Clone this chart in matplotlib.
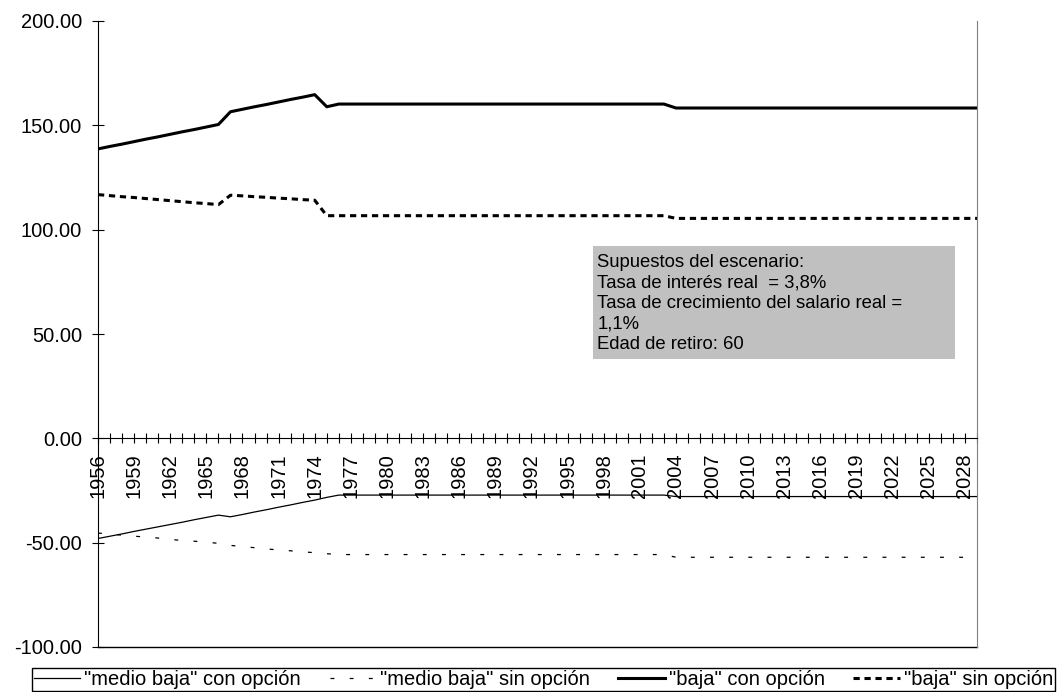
import numpy as np
import matplotlib
matplotlib.use("Agg")
import matplotlib.pyplot as plt
import matplotlib.patches as patches

plt.rcParams['font.family'] = ['Liberation Sans', 'DejaVu Sans']
plt.rcParams['lines.scale_dashes'] = False

# years on the category axis
years = list(range(1956, 2030))

# "medio baja" con opcion (thin solid)
medio_con = [-48.0, -46.9, -45.8, -44.6, -43.5, -42.4, -41.3, -40.2, -39.0, -37.9, -36.8,
             -37.6, -36.5, -35.3, -34.2, -33.0, -31.9, -30.7, -29.6, -28.3, -27.2] \
    + [-27.2] * 27 + [-27.9] * 26

# "medio baja" sin opcion (thin dashed)
medio_sin = [-45.4, -45.9, -46.4, -46.9, -47.3, -47.8, -48.4, -49.0, -49.3, -49.8, -50.3,
             -51.3, -51.9, -52.4, -53.0, -53.5, -53.9, -54.4, -54.8, -55.3, -55.7] \
    + [-55.7] * 27 + [-57.0] * 26

# "baja" con opcion (thick solid)
baja_con = [138.7, 139.9, 141.0, 142.2, 143.4, 144.5, 145.7, 146.9, 148.0, 149.2, 150.4,
            156.5, 157.7, 158.9, 160.0, 161.2, 162.4, 163.5, 164.7, 158.9, 160.2] \
    + [160.2] * 27 + [158.3] * 26

# "baja" sin opcion (thick dashed)
baja_sin = [116.8, 116.3, 115.8, 115.4, 114.9, 114.4, 113.9, 113.4, 112.9, 112.5, 112.0,
            116.5, 116.2, 115.8, 115.5, 115.1, 114.8, 114.4, 114.1, 106.7, 106.7] \
    + [106.7] * 27 + [105.4] * 26

series_labels = ['"medio baja" con opción', '"medio baja" sin opción',
                 '"baja" con opción', '"baja" sin opción']

y_ticks = [-100, -50, 0, 50, 100, 150, 200]
note_lines = ["Supuestos del escenario:",
              "Tasa de interés real  = 3,8%",
              "Tasa de crecimiento del salario real =",
              "1,1%",
              "Edad de retiro: 60"]

fig = plt.figure(figsize=(10.6, 6.92), dpi=100)
ax = fig.add_axes([98 / 1060, 1 - 647 / 692, 879 / 1060, 626 / 692])

ax.plot(years, medio_con, color='black', lw=0.9, label=series_labels[0])
ax.plot(years, medio_sin, color='black', lw=0.9, dashes=(2.8, 11.0), label=series_labels[1])
ax.plot(years, baja_con, color='black', lw=2.2, label=series_labels[2])
ax.plot(years, baja_sin, color='black', lw=2.2, dashes=(4.5, 3.4), label=series_labels[3])

ax.set_xlim(years[0], years[-1])
ax.set_ylim(-100, 200)

# category axis crosses at zero
ax.spines['bottom'].set_position(('data', 0))
ax.spines['bottom'].set_color('black')
ax.spines['left'].set_color('black')
ax.spines['top'].set_visible(False)
ax.spines['right'].set_color('#808080')
ax.axhline(-100, color='black', lw=1, clip_on=False)

ax.set_xticks(years)
ax.set_xticklabels([str(y) if (y - years[0]) % 3 == 0 else '' for y in years],
                   rotation=90, fontsize=14.5)
ax.tick_params(axis='x', direction='inout', length=7.2, width=0.8, pad=7)

ax.set_yticks(y_ticks)
ax.set_yticklabels(['%.2f' % v for v in y_ticks], fontsize=14.5)
ax.tick_params(axis='y', direction='inout', length=9, width=0.8, pad=7)

# scenario note box
ax.add_patch(patches.Rectangle((0.563, 0.460), 0.412, 0.181, transform=ax.transAxes,
                               facecolor='#c0c0c0', edgecolor='none', zorder=1))
ax.text(0.568, 0.628, "\n".join(note_lines), transform=ax.transAxes,
        fontsize=13.3, va='top', ha='left', linespacing=1.27, zorder=2)

leg = fig.legend(loc='lower left', bbox_to_anchor=(32 / 1060, 1 / 692, 1023 / 1060, 28 / 692),
                 mode='expand', ncol=4, fontsize=14.5, frameon=True, fancybox=False,
                 framealpha=1, edgecolor='black', handlelength=2.3, handletextpad=0.2,
                 borderpad=0.1, borderaxespad=0, columnspacing=0.5)
leg.get_frame().set_linewidth(1.0)

fig.savefig("out.png", dpi=100)
